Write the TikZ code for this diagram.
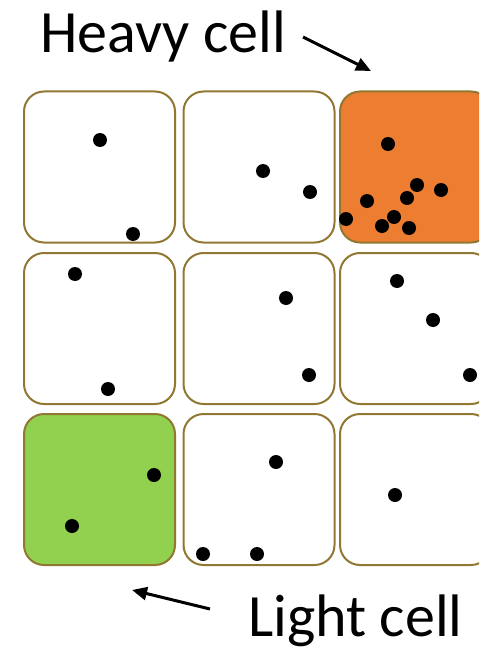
\documentclass[tikz,border=0pt]{standalone}
\usepackage{fontspec}
\setmainfont{Carlito}
\usetikzlibrary{arrows.meta}
\definecolor{cellrim}{RGB}{145,120,50}
\definecolor{heavyorange}{RGB}{237,125,49}
\definecolor{lightgreen}{RGB}{146,208,80}

\begin{document}
\begin{tikzpicture}[x=1pt,y=-1pt,
  cell/.style={draw=cellrim,line width=2pt,fill=white,rounded corners=20pt,
    minimum width=151pt,minimum height=151pt,inner sep=0pt},
  label/.style={inner sep=0pt,anchor=base west,font=\fontsize{60}{72}\selectfont},
  pointer/.style={line width=3pt,-{Triangle[length=15pt,width=13pt]}}]
  \useasboundingbox (0,0) rectangle (479,650);
  \clip (0,0) rectangle (479,650);
  \node[cell] (c11) at (99.5,167) {};
  \node[cell] (c12) at (259,167) {};
  \node[cell,fill=heavyorange] (c13) at (415.5,167) {};
  \node[cell] (c21) at (99.5,328.5) {};
  \node[cell] (c22) at (259,328.5) {};
  \node[cell] (c23) at (415.5,328.5) {};
  \node[cell,fill=lightgreen] (c31) at (99.5,489.5) {};
  \node[cell] (c32) at (259,489.5) {};
  \node[cell] (c33) at (415.5,489.5) {};
  \foreach \px/\py in {100/140,133/234,263/171,310/192,
      388/144,417/185,441/190,367/201,407/198,346/219,394/217,382/226,409/228,
      75/274,108/389,286/298,309/375,397/281,433/320,470/375,
      154/475,72/526,276/462,203/554,257/554,395/495}
    \fill (\px,\py) circle (7pt);
  \node[label] (heavy) at (40,53) {Heavy cell};
  \node[label] (light) at (248,636) {Light cell};
  \coordinate (heavytail) at (303,37);
  \coordinate (heavyhead) at (371,71);
  \coordinate (lighttail) at (210,609);
  \coordinate (lighthead) at (132,590);
  \draw[pointer] (heavytail) -- (heavyhead);
  \draw[pointer] (lighttail) -- (lighthead);
\end{tikzpicture}
\end{document}
